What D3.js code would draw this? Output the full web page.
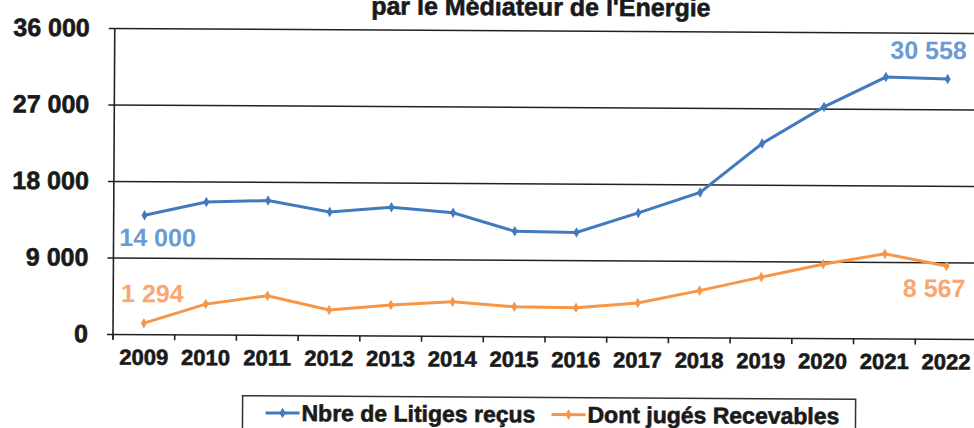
<!DOCTYPE html>
<html>
<head>
<meta charset="utf-8">
<script src="https://cdn.jsdelivr.net/npm/d3@7"></script>
<style>
body { margin: 0; background: #fff; }
svg { display: block; font-family: "Liberation Sans", Arial, sans-serif; font-weight: bold; }
</style>
</head>
<body>
<svg id="chart"></svg>
<script>
var years = ["2009", "2010", "2011", "2012", "2013", "2014", "2015", "2016", "2017", "2018", "2019", "2020", "2021", "2022"];
var litiges = [14000, 15600, 15800, 14500, 15100, 14500, 12350, 12250, 14600, 17050, 22850, 27200, 30750, 30558];
var recevables = [1294, 3580, 4600, 2970, 3600, 4030, 3470, 3390, 4000, 5500, 7130, 8680, 9950, 8567];
var yTicks = [0, 9000, 18000, 27000, 36000];
var seriesNames = ["Nbre de Litiges reçus", "Dont jugés Recevables"];
var title = "par le Médiateur de l'Énergie";

var width = 974;
var height = 428;
var margin = {
	left: 113,
	right: -3,
	top: 28,
	bottom: 94
}
var blue = "#4379bd";
var orange = "#f79646";
var ink = "#1a1a1a";

var fr = d3.formatLocale({ decimal: ",", thousands: " ", grouping: [3], currency: ["", " €"] });
var fmt = fr.format(",d");

var svg = d3.select("#chart")
	.attr("width", width)
	.attr("height", height);

// the scan is tilted a little
var g = svg.append("g")
	.attr("transform", "rotate(0.33," + margin.left + "," + (height - margin.bottom) + ")");

var xScale = d3.scaleBand()
	.domain(years)
	.range([margin.left, width - margin.right])
	.padding(0);
var yScale = d3.scaleLinear()
	.domain([0, 36000])
	.range([height - margin.bottom, margin.top]);

g.append("text")
	.attr("x", 539)
	.attr("y", 13)
	.attr("text-anchor", "middle")
	.attr("font-size", 25)
	.attr("fill", ink)
	.attr("stroke", ink)
	.attr("stroke-width", 0.6)
	.text(title);

var yAxis = d3.axisLeft(yScale)
	.tickValues(yTicks)
	.tickFormat(fmt)
	.tickSize(-(width - margin.right - margin.left))
	.tickSizeOuter(0)
	.tickPadding(25);
var yg = g.append("g")
	.attr("transform", "translate(" + margin.left + ",0)")
	.call(yAxis);
yg.select(".domain").remove();
yg.selectAll(".tick line")
	.attr("x1", -6)
	.attr("stroke", "#222")
	.attr("stroke-width", 1.6);
yg.selectAll(".tick text")
	.attr("font-size", 25)
	.attr("font-family", "Liberation Sans, Arial, sans-serif")
	.attr("font-weight", "bold")
	.attr("fill", ink)
	.attr("stroke", ink)
	.attr("stroke-width", 0.6);

// vertical axis line
g.append("line")
	.attr("x1", margin.left)
	.attr("x2", margin.left)
	.attr("y1", yScale(36000))
	.attr("y2", yScale(0) + 5)
	.attr("stroke", "#222")
	.attr("stroke-width", 1.6);

var xAxis = d3.axisBottom(xScale)
	.tickSize(0)
	.tickPadding(15);
var xg = g.append("g")
	.attr("transform", "translate(0," + yScale(0) + ")")
	.call(xAxis);
xg.select(".domain").remove();
xg.selectAll(".tick text")
	.attr("font-size", 22)
	.attr("font-family", "Liberation Sans, Arial, sans-serif")
	.attr("font-weight", "bold")
	.attr("fill", ink)
	.attr("stroke", ink)
	.attr("stroke-width", 0.6);

// category boundary ticks
g.selectAll(".xtick")
	.data(years)
	.enter()
	.append("line")
	.attr("x1", function (d) { return xScale(d); })
	.attr("x2", function (d) { return xScale(d); })
	.attr("y1", yScale(0))
	.attr("y2", yScale(0) + 6)
	.attr("stroke", "#222")
	.attr("stroke-width", 1.6);

var line = d3.line()
	.x(function (d, i) { return xScale(years[i]) + xScale.bandwidth() / 2; })
	.y(function (d) { return yScale(d); });

var diamond = d3.symbol().type(d3.symbolDiamond).size(32);

function drawSeries(values, color) {
	g.append("path")
		.datum(values)
		.attr("fill", "none")
		.attr("stroke", color)
		.attr("stroke-width", 3)
		.attr("d", line);
	g.selectAll(null)
		.data(values)
		.enter()
		.append("path")
		.attr("d", diamond)
		.attr("fill", color)
		.attr("transform", function (d, i) {
			return "translate(" + (xScale(years[i]) + xScale.bandwidth() / 2) + "," + yScale(d) + ")";
		});
}
drawSeries(litiges, blue);
drawSeries(recevables, orange);

function px(i) { return xScale(years[i]) + xScale.bandwidth() / 2; }
var last = years.length - 1;
var labels = [
	{ v: litiges[0], x: px(0) - 25, y: yScale(litiges[0]) + 31, anchor: "start", color: "#6b9bd3" },
	{ v: recevables[0], x: px(0) - 23, y: yScale(recevables[0]) - 21, anchor: "start", color: "#f9a66f" },
	{ v: litiges[last], x: px(last) + 19, y: yScale(litiges[last]) - 20, anchor: "end", color: "#6b9bd3" },
	{ v: recevables[last], x: px(last) + 19, y: yScale(recevables[last]) + 31, anchor: "end", color: "#f9a66f" }
];
g.selectAll(".dlabel")
	.data(labels)
	.enter()
	.append("text")
	.attr("x", function (d) { return d.x; })
	.attr("y", function (d) { return d.y; })
	.attr("text-anchor", function (d) { return d.anchor; })
	.attr("font-size", 25)
	.attr("fill", function (d) { return d.color; })
	.text(function (d) { return fmt(d.v); });

// legend
var lg = g.append("g");
lg.append("rect")
	.attr("x", 243)
	.attr("y", 395)
	.attr("width", 613)
	.attr("height", 50)
	.attr("fill", "#fff")
	.attr("stroke", "#333")
	.attr("stroke-width", 1.5);
var legendItems = [
	{ name: seriesNames[0], color: blue, x: 266 },
	{ name: seriesNames[1], color: orange, x: 552 }
];
legendItems.forEach(function (d) {
	lg.append("line")
		.attr("x1", d.x)
		.attr("x2", d.x + 34)
		.attr("y1", 412)
		.attr("y2", 412)
		.attr("stroke", d.color)
		.attr("stroke-width", 3);
	lg.append("path")
		.attr("d", diamond)
		.attr("fill", d.color)
		.attr("transform", "translate(" + (d.x + 17) + ",412)");
	lg.append("text")
		.attr("x", d.x + 36)
		.attr("y", 420)
		.attr("font-size", 23)
		.attr("fill", ink)
		.attr("stroke", ink)
		.attr("stroke-width", 0.6)
		.text(d.name);
});
</script>
</body>
</html>
